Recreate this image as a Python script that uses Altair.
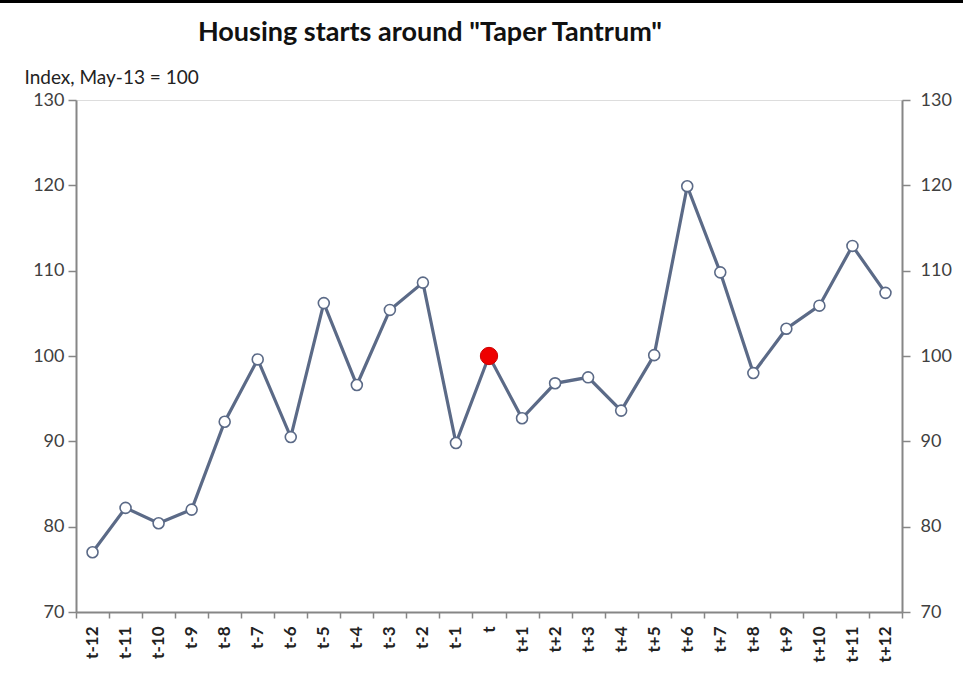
import altair as alt
import pandas as pd

periods = ["t-12", "t-11", "t-10", "t-9", "t-8", "t-7", "t-6", "t-5", "t-4", "t-3", "t-2", "t-1", "t",
           "t+1", "t+2", "t+3", "t+4", "t+5", "t+6", "t+7", "t+8", "t+9", "t+10", "t+11", "t+12"]
values = [77.0, 82.2, 80.4, 82.0, 92.3, 99.6, 90.5, 106.2, 96.6, 105.4, 108.6, 89.8, 100.0,
          92.7, 96.8, 97.5, 93.6, 100.1, 119.9, 109.8, 98.0, 103.2, 105.9, 112.9, 107.4]
highlight = "t"
y_ticks = [70, 80, 90, 100, 110, 120, 130]

df = pd.DataFrame({"period": periods, "value": values})
df["hl"] = df["period"] == highlight

FONT = "Lato"
LINE = "#5b6a87"
AXIS = "#868686"

xenc = alt.X("period:N", sort=periods, bandPosition=0.5,
             scale=alt.Scale(type="band", paddingInner=0, paddingOuter=0),
             axis=alt.Axis(title=None, labelAngle=-90, labelFontSize=17, labelFontWeight="bold",
                           labelColor="#222222", labelFont=FONT, tickBand="extent", tickColor=AXIS,
                           tickSize=6, tickWidth=1.5, domainColor=AXIS, domainWidth=2, labelPadding=8,
                           grid=False))
yscale = alt.Scale(domain=[70, 130], nice=False, zero=False)

line = alt.Chart(df).mark_line(color=LINE, strokeWidth=3.2).encode(
    x=xenc,
    y=alt.Y("value:Q", scale=yscale,
            axis=alt.Axis(orient="left", values=y_ticks, title="Index, May-13 = 100",
                          titleAngle=0, titleX=-52, titleY=-23, titleAlign="left", titleBaseline="middle",
                          titleFontSize=19, titleFontWeight="normal", titleFont=FONT, titleColor="#222222",
                          labelFontSize=18, labelFont=FONT, labelColor="#404040", labelPadding=4,
                          tickColor=AXIS, tickSize=8, tickWidth=1.5, domainColor=AXIS, domainWidth=2,
                          grid=False)),
)

pts = alt.Chart(df).transform_filter("!datum.hl").mark_point(
    filled=True, fill="white", stroke=LINE, strokeWidth=1.6, size=120, opacity=1
).encode(
    x=xenc,
    y=alt.Y("value:Q", scale=yscale,
            axis=alt.Axis(orient="right", values=y_ticks, title=None,
                          labelFontSize=18, labelFont=FONT, labelColor="#404040", labelPadding=10,
                          tickColor=AXIS, tickSize=8, tickWidth=1.5, domainColor=AXIS, domainWidth=2,
                          grid=False)),
)

red = alt.Chart(df).transform_filter("datum.hl").mark_point(
    filled=True, fill="#ee0000", stroke="#cc0000", strokeWidth=1, size=300, opacity=1
).encode(x=xenc, y=alt.Y("value:Q", scale=yscale, axis=None))

topbar = alt.Chart(df).mark_rule(color="black", strokeWidth=4).encode(
    x=alt.value(-76), x2=alt.value(887), y=alt.value(-99)
)

chart = alt.layer(line, pts, red, topbar).resolve_axis(y="independent").properties(
    width=826, height=512,
    autosize=alt.AutoSizeParams(type="none"),
    padding={"left": 76, "top": 100, "right": 61, "bottom": 77},
    title=alt.TitleParams('Housing starts around  "Taper Tantrum"', fontSize=27, fontWeight="bold",
                          font=FONT, color="#111111", anchor="middle", frame="group", dx=-59, offset=-48),
).configure_view(stroke=None, strokeOpacity=0, strokeWidth=0).configure_axis(
    grid=False, gridOpacity=0
).configure(background="white")

chart.save("out.html", embed_options={"renderer": "svg", "actions": False})
